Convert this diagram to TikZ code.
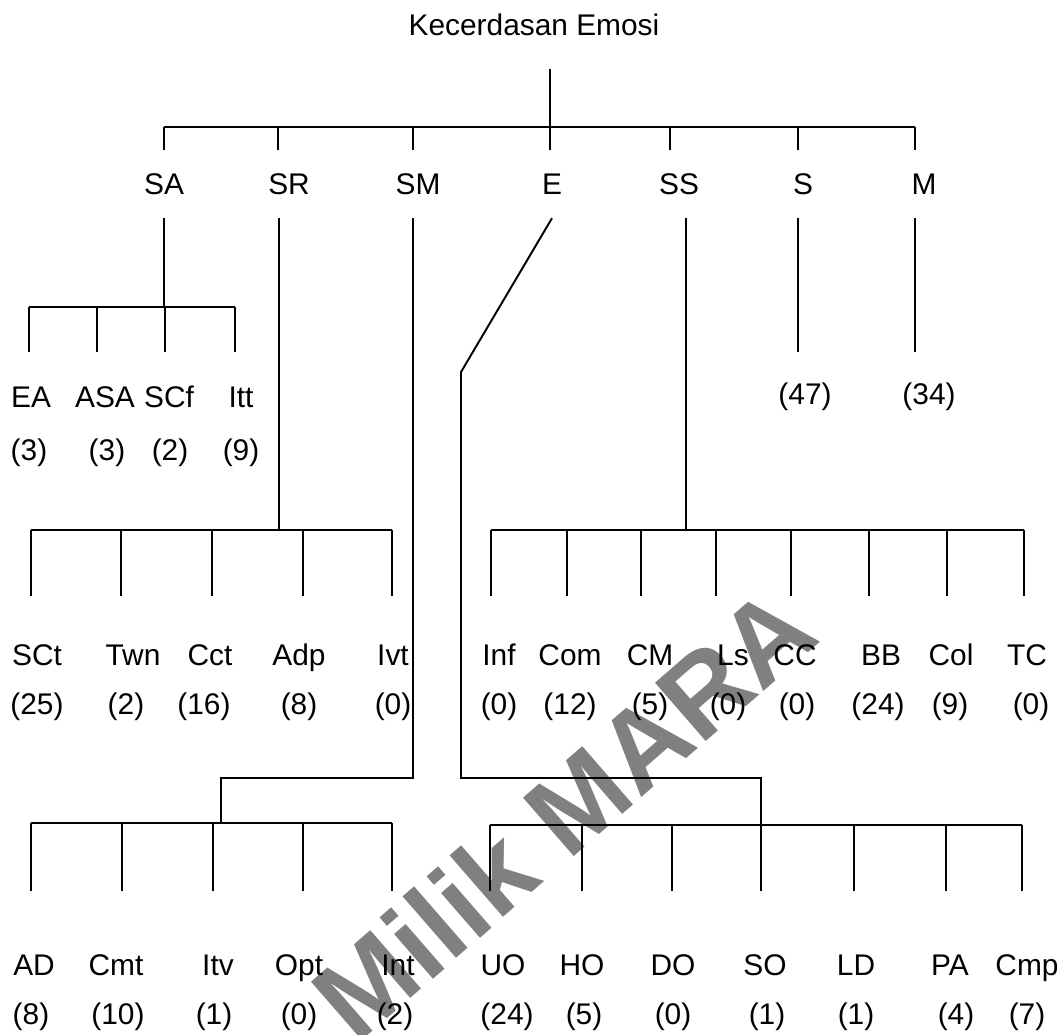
\documentclass[tikz,border=0pt]{standalone}
\usepackage{fontspec}
\setmainfont{Liberation Sans}
\usetikzlibrary{calc}
\definecolor{sello}{HTML}{808080}

\begin{document}
\begin{tikzpicture}[x=0.02cm, y=-0.02cm, line width=1.1pt,
  font=\fontsize{17}{20}\selectfont,
  lbl/.style={inner xsep=0pt, inner ysep=#1, text height=12.2pt, text depth=0pt},
  lbl/.default=0pt]
\useasboundingbox (0,0) rectangle (1060,1034);
% watermark
\node[text=sello, rotate=41, font=\fontsize{64}{68}\selectfont\bfseries] (sello) at (563,812) {Milik MARA};

% root and first level
\node[lbl=18.3pt] (title) at (534,25) {Kecerdasan Emosi};
\foreach \n/\dx/\lx in {SA/164/164, SR/278/289, SM/413/418, E/550/552, SS/670/679, S/798/803, M/915/924}{
  \coordinate (t\n) at (\dx,127);
  \node[lbl=12.8pt] (\n) at (\lx,184) {\n};
  \draw (t\n) -- (t\n |- \n.north);
}
\draw (tSA) -- (tM);
\draw (tE |- title.south) -- (tE);

% SA
\coordinate (jSA) at (164,307);
\draw (SA.south) -- (jSA);
\foreach \n/\dx/\lx/\cx/\cnt in {EA/29/31/29/3, ASA/97/105/107/3, SCf/165/169/170/2, Itt/235/241/241/9}{
  \coordinate (d\n) at (\dx,307);
  \node[lbl=18.9pt] (\n) at (\lx,397) {\n};
  \node[lbl] (n\n) at (\cx,450) {(\cnt)};
  \draw (d\n) -- (d\n |- \n.north);
}
\draw (dEA) -- (dItt);

% SR
\coordinate (jSR) at (279,530);
\draw (jSR |- SR.south) -- (jSR);
\foreach \n/\dx/\lx/\cx/\cnt in {SCt/31/37/37/25, Twn/121/133/126/2, Cct/212/210/204/16, Adp/303/299/299/8, Ivt/392/393/393/0}{
  \coordinate (d\n) at (\dx,530);
  \node[lbl=26.8pt] (\n) at (\lx,655) {\n};
  \node[lbl] (n\n) at (\cx,704) {(\cnt)};
  \draw (d\n) -- (d\n |- \n.north);
}
\draw (dSCt) -- (dIvt);

% SM
\coordinate (kSM) at (413,778);
\coordinate (jSM) at (221,823);
\draw (kSM |- SM.south) -- (kSM) -| (jSM);
\foreach \n/\dx/\lx/\cx/\cnt in {AD/31/34/31/8, Cmt/122/116/118/10, Itv/213/218/214/1, Opt/303/299/299/0, Int/392/398/395/2}{
  \coordinate (d\n) at (\dx,823);
  \node[lbl=35.3pt] (\n) at (\lx,965) {\n};
  \node[lbl] (n\n) at (\cx,1014) {(\cnt)};
  \draw (d\n) -- (d\n |- \n.north);
}
\draw (dAD) -- (dInt);

% E
\coordinate (bE) at (461,372);
\coordinate (kE) at (461,778);
\coordinate (jE) at (761,825);
\draw (E.south) -- (bE) -- (kE) -| (jE);
\foreach \n/\dx/\lx/\cx/\cnt in {UO/490/503/507/24, HO/582/582/584/5, DO/672/673/673/0, SO/761/765/767/1, LD/854/856/856/1, PA/946/950/956/4, Cmp/1022/1027/1027/7}{
  \coordinate (d\n) at (\dx,825);
  \node[lbl=35.3pt] (\n) at (\lx,965) {\n};
  \node[lbl] (n\n) at (\cx,1014) {(\cnt)};
  \draw (d\n) -- (d\n |- \n.north);
}
\draw (dUO) -- (dCmp);

% SS
\coordinate (jSS) at (686,530);
\draw (jSS |- SS.south) -- (jSS);
\foreach \n/\dx/\lx/\cx/\cnt in {Inf/491/499/499/0, Com/567/570/570/12, CM/641/650/650/5, Ls/716/733/728/0, CC/791/795/797/0, BB/869/881/878/24, Col/947/951/950/9, TC/1024/1027/1031/0}{
  \coordinate (d\n) at (\dx,530);
  \node[lbl=26.8pt] (\n) at (\lx,655) {\n};
  \node[lbl] (n\n) at (\cx,704) {(\cnt)};
  \draw (d\n) -- (d\n |- \n.north);
}
\draw (dInf) -- (dTC);

% S and M
\node[lbl=17.2pt] (nS) at (805,394) {(47)};
\node[lbl=17.2pt] (nM) at (929,394) {(34)};
\draw (tS |- S.south) -- (tS |- nS.north);
\draw (tM |- M.south) -- (tM |- nM.north);
\end{tikzpicture}
\end{document}
